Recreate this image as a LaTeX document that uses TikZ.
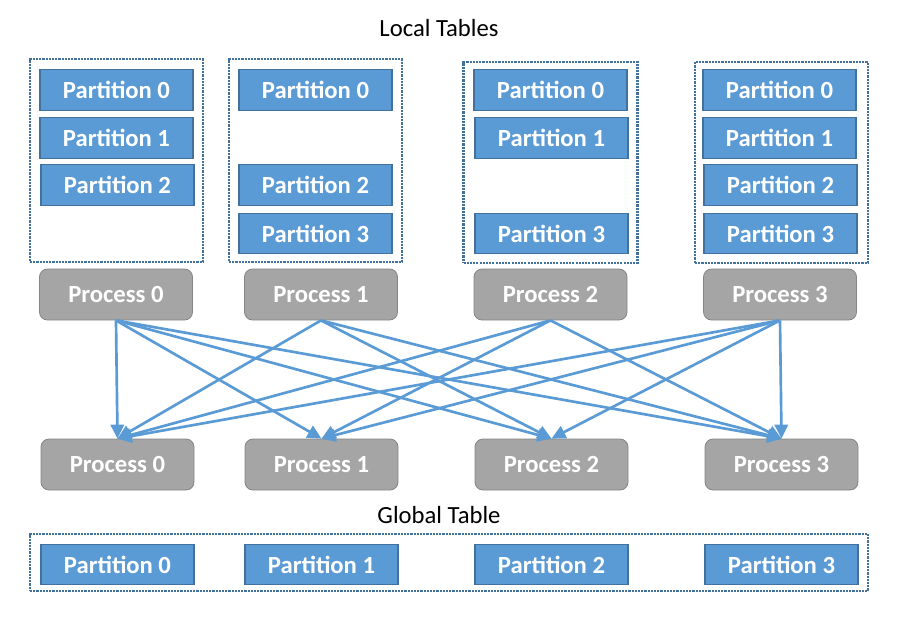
\documentclass[tikz,border=0pt]{standalone}
\usepackage{fontspec}
\setmainfont{Carlito}
\usetikzlibrary{arrows.meta}
\definecolor{partblue}{HTML}{5B9BD5}
\definecolor{partedge}{HTML}{41719C}
\definecolor{procgray}{HTML}{A5A5A5}
\definecolor{procedge}{HTML}{858585}
\definecolor{dotedge}{HTML}{41719C}

\begin{document}
\begin{tikzpicture}[x=0.75pt, y=-0.75pt,
    partition/.style={rectangle, draw=partedge, fill=partblue, line width=0.8pt,
      minimum width=114.75pt, minimum height=30.5pt, inner sep=0pt,
      text=white, font=\fontsize{18.5}{22}\selectfont\bfseries},
    process/.style={rectangle, rounded corners=6pt, draw=procedge, fill=procgray,
      line width=0.6pt, minimum width=114.75pt, minimum height=38.25pt, inner sep=0pt,
      text=white, font=\fontsize{18.5}{22}\selectfont\bfseries},
    tablebox/.style={rectangle, draw=dotedge, line width=1.9pt,
      dash pattern=on 1.6pt off 0.8pt, inner sep=0pt},
    caption/.style={font=\fontsize{18.5}{22}\selectfont},
    flow/.style={draw=partblue, line width=2pt, -{Triangle[length=10.5pt, width=10pt]}}]
    \useasboundingbox (0,0) rectangle (914,617);

    % local tables
    \node[caption] (localcap) at (439,28) {Local Tables};
    \node[tablebox, minimum width=129.75pt, minimum height=152.25pt] (lt0) at (116.5,160.5) {};
    \node[tablebox, minimum width=129.75pt, minimum height=152.25pt] (lt1) at (315.5,160.5) {};
    \node[tablebox, minimum width=130.5pt, minimum height=150.75pt] (lt2) at (550.5,162.5) {};
    \node[tablebox, minimum width=129.75pt, minimum height=150.75pt] (lt3) at (781.5,162.5) {};

    \node[partition] (l0p0) at (116.5,90) {Partition 0};
    \node[partition] (l0p1) at (116.5,138) {Partition 1};
    \node[partition] (l0p2) at (117.5,185) {Partition 2};

    \node[partition] (l1p0) at (315.5,90) {Partition 0};
    \node[partition] (l1p2) at (315.5,185) {Partition 2};
    \node[partition] (l1p3) at (315.5,233.5) {Partition 3};

    \node[partition] (l2p0) at (550.5,90) {Partition 0};
    \node[partition] (l2p1) at (551.5,138) {Partition 1};
    \node[partition] (l2p3) at (551.5,233.5) {Partition 3};

    \node[partition] (l3p0) at (779.5,90) {Partition 0};
    \node[partition] (l3p1) at (779.5,138) {Partition 1};
    \node[partition] (l3p2) at (780.5,185) {Partition 2};
    \node[partition] (l3p3) at (780.5,233.5) {Partition 3};

    % processes
    \node[process] (tp0) at (116,294.5) {Process 0};
    \node[process] (tp1) at (321,294.5) {Process 1};
    \node[process] (tp2) at (550.5,294.5) {Process 2};
    \node[process] (tp3) at (780,294.5) {Process 3};

    \node[process] (bp0) at (117.5,464.5) {Process 0};
    \node[process] (bp1) at (321.5,464.5) {Process 1};
    \node[process] (bp2) at (551.5,464.5) {Process 2};
    \node[process] (bp3) at (781.5,464.5) {Process 3};

    % exchange between processes
    \draw[flow] (tp0.south) -- (bp0.north);
    \draw[flow] (tp0.south) -- (bp1.north);
    \draw[flow] (tp0.south) -- (bp2.north);
    \draw[flow] (tp0.south) -- (bp3.north);
    \draw[flow] (tp1.south) -- (bp0.north);
    \draw[flow] (tp1.south) -- (bp2.north);
    \draw[flow] (tp1.south) -- (bp3.north);
    \draw[flow] (tp2.south) -- (bp0.north);
    \draw[flow] (tp2.south) -- (bp1.north);
    \draw[flow] (tp2.south) -- (bp3.north);
    \draw[flow] (tp3.south) -- (bp0.north);
    \draw[flow] (tp3.south) -- (bp1.north);
    \draw[flow] (tp3.south) -- (bp2.north);
    \draw[flow] (tp3.south) -- (bp3.north);

    % global table
    \node[caption] (globalcap) at (439,515) {Global Table};
    \node[tablebox, minimum width=628.5pt, minimum height=42.75pt] (gt) at (449,562.5) {};
    \node[partition] (gp0) at (117.5,564.5) {Partition 0};
    \node[partition] (gp1) at (321.5,564.5) {Partition 1};
    \node[partition] (gp2) at (551.5,564.5) {Partition 2};
    \node[partition] (gp3) at (781.5,564.5) {Partition 3};
\end{tikzpicture}
\end{document}
